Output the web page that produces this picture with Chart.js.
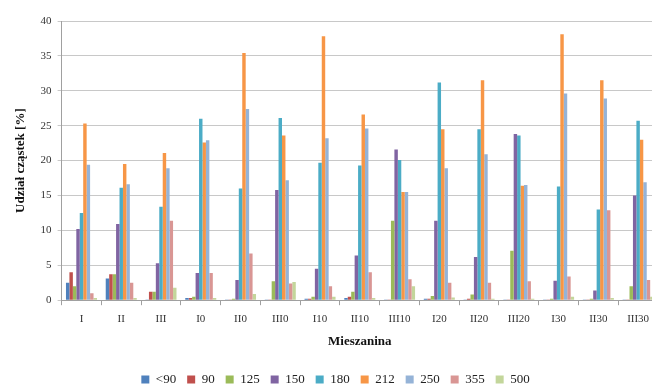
<!DOCTYPE html>
<html>
<head>
<meta charset="utf-8">
<script src="https://cdn.jsdelivr.net/npm/chart.js@4"></script>
<style>
  html, body { margin: 0; padding: 0; background: #fff; overflow: hidden; }
  #wrap { width: 658px; height: 388px; position: relative; }
</style>
</head>
<body>
<div id="wrap"><canvas id="chart"></canvas></div>
<script>
const mixtures = ['I', 'II', 'III', 'I0', 'II0', 'III0', 'I10', 'II10', 'III10', 'I20', 'II20', 'III20', 'I30', 'II30', 'III30'];
const fractions = ['<90', '90', '125', '150', '180', '212', '250', '355', '500'];
const yTicks = [0, 5, 10, 15, 20, 25, 30, 35, 40];

// particle share [%] per size fraction, one value per mixture
const f_lt90 = [2.5, 3.1, 0.1, 0.3, 0.1, 0.1, 0.2, 0.3, 0.1, 0.2, 0.1, 0.1, 0.1, 0.1, 0.1];
const f_90   = [4.0, 3.7, 1.2, 0.3, 0.1, 0.1, 0.2, 0.5, 0.1, 0.2, 0.2, 0.1, 0.1, 0.1, 0.1];
const f_125  = [2.0, 3.7, 1.2, 0.5, 0.2, 2.7, 0.5, 1.2, 11.4, 0.6, 0.8, 7.1, 0.2, 0.2, 2.0];
const f_150  = [10.2, 10.9, 5.3, 3.9, 2.9, 15.8, 4.5, 6.4, 21.6, 11.4, 6.2, 23.8, 2.8, 1.4, 15.0];
const f_180  = [12.5, 16.1, 13.4, 26.0, 16.0, 26.1, 19.7, 19.3, 20.1, 31.2, 24.5, 23.6, 16.3, 13.0, 25.7];
const f_212  = [25.3, 19.5, 21.1, 22.6, 35.4, 23.6, 37.8, 26.6, 15.5, 24.5, 31.5, 16.4, 38.1, 31.5, 23.0];
const f_250  = [19.4, 16.6, 18.9, 22.9, 27.4, 17.2, 23.2, 24.6, 15.5, 18.9, 20.9, 16.5, 29.6, 28.9, 16.9];
const f_355  = [1.0, 2.5, 11.4, 3.9, 6.7, 2.4, 2.0, 4.0, 3.0, 2.5, 2.5, 2.7, 3.4, 12.9, 2.9];
const f_500  = [0.3, 0.3, 1.8, 0.3, 0.9, 2.6, 0.5, 0.3, 2.0, 0.4, 0.2, 0.2, 0.5, 0.3, 0.5];

const seriesData = [f_lt90, f_90, f_125, f_150, f_180, f_212, f_250, f_355, f_500];
const colors = ['#4f81bd', '#c0504d', '#9bbb59', '#8064a2', '#4bacc6', '#f79646', '#95b3d7', '#d99694', '#c3d69b'];

const serif = '"Liberation Serif", "Times New Roman", serif';

// push the legend a bit lower, like the original
const legendShift = {
  id: 'legendShift',
  afterLayout(chart) {
    chart.legend.top += 8;
    chart.legend.bottom += 8;
  }
};

new Chart(document.getElementById('chart'), {
  type: 'bar',
  data: {
    labels: mixtures,
    datasets: fractions.map((f, i) => ({
      label: f,
      data: seriesData[i],
      backgroundColor: colors[i],
      borderWidth: 0,
      categoryPercentage: 0.78,
      barPercentage: 1.0
    }))
  },
  options: {
    responsive: true,
    maintainAspectRatio: false,
    animation: false,
    layout: { padding: { left: 13, right: 0, top: 21, bottom: 0 } },
    plugins: {
      tooltip: { enabled: false },
      legend: {
        position: 'bottom',
        labels: {
          boxWidth: 8, boxHeight: 8, padding: 11,
          color: '#222',
          font: { family: serif, size: 13 }
        }
      }
    },
    scales: {
      x: {
        grid: { display: true, drawOnChartArea: false, offset: true, tickLength: 5, color: '#a0a0a0' },
        border: { color: '#a0a0a0' },
        ticks: { color: '#333', font: { family: serif, size: 11 }, padding: 7, maxRotation: 0, autoSkip: false },
        title: { display: true, text: 'Mieszanina', color: '#111', font: { family: serif, size: 13, weight: 'bold' }, padding: { top: 1, bottom: 5 } }
      },
      y: {
        min: 0, max: 40,
        afterBuildTicks: axis => { axis.ticks = yTicks.map(v => ({ value: v })); },
        grid: { color: '#c8c8c8', lineWidth: 1, tickLength: 4 },
        border: { color: '#a0a0a0' },
        ticks: { color: '#333', font: { family: serif, size: 11 }, padding: 6 },
        title: { display: true, text: 'Udział cząstek [%]', color: '#111', font: { family: serif, size: 13, weight: 'bold' }, padding: { top: 0, bottom: 6 } }
      }
    }
  },
  plugins: [legendShift]
});
</script>
</body>
</html>
